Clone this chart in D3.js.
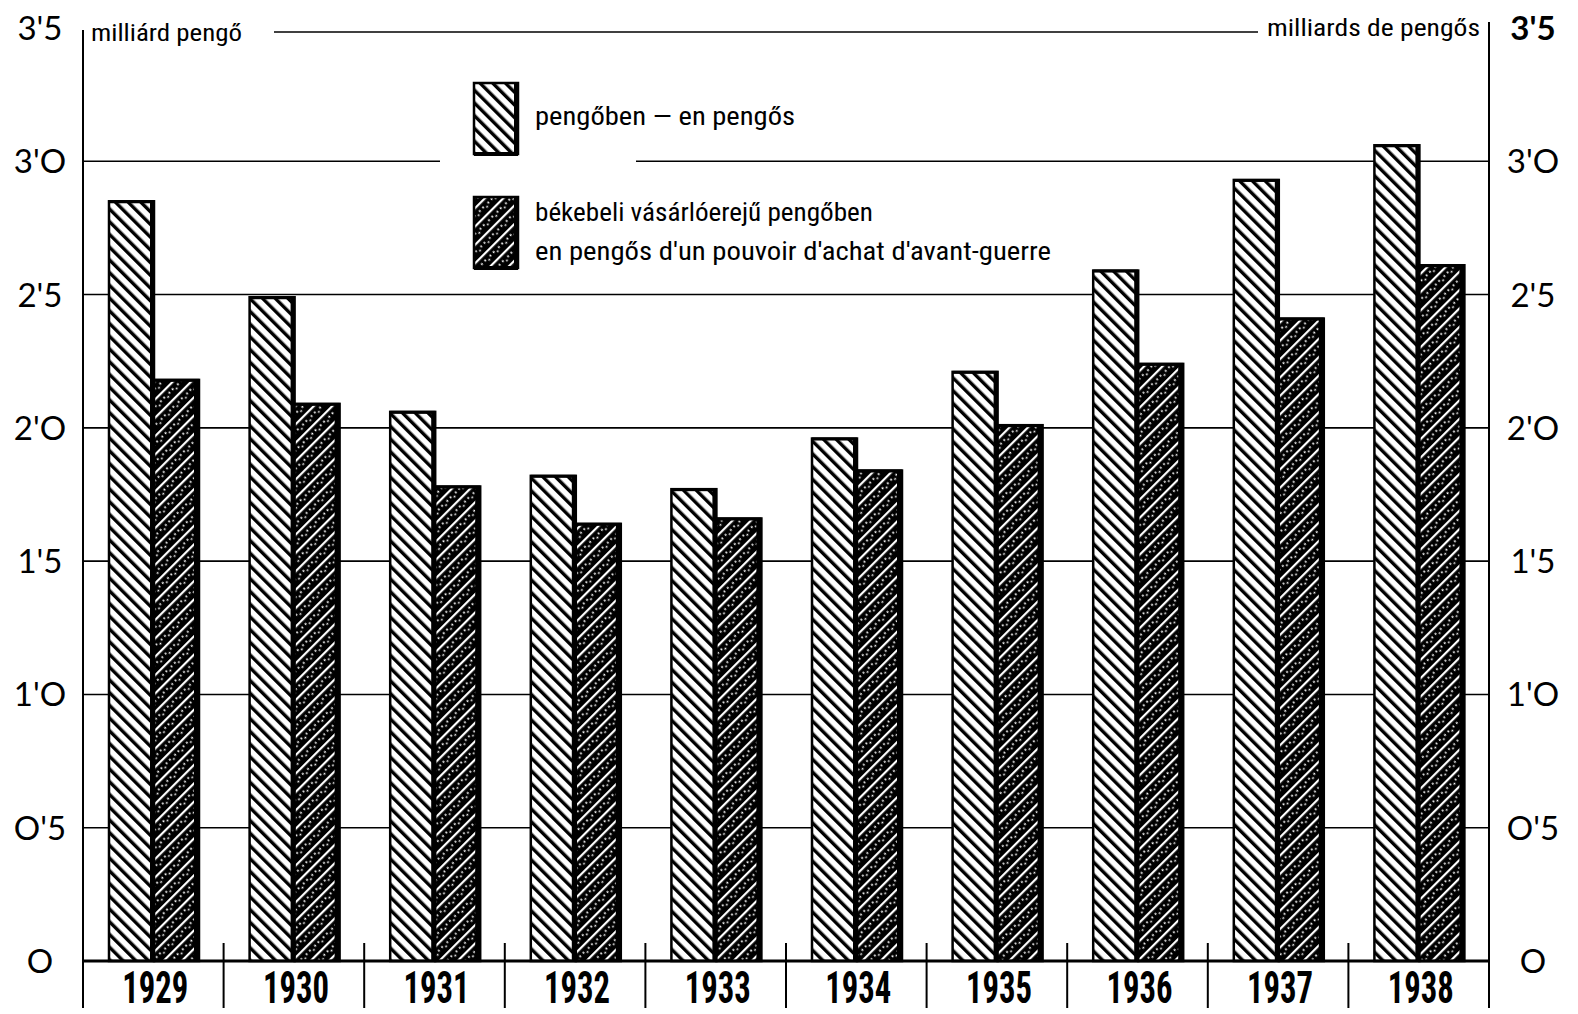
<!DOCTYPE html>
<html><head><meta charset="utf-8">
<script src="https://cdn.jsdelivr.net/npm/d3@7"></script>
<style>
body{margin:0;background:#fff;}
svg{display:block;}
.cond{font-family:"Liberation Sans Narrow","Roboto Condensed","DejaVu Sans Condensed",sans-serif;}
.num{font-family:Lato,"Noto Sans",sans-serif;}
</style></head><body>
<svg id="c" width="1578" height="1014"></svg>
<script>
const years = ["1929","1930","1931","1932","1933","1934","1935","1936","1937","1938"];
const nominal = [2.85,2.49,2.06,1.82,1.77,1.96,2.21,2.59,2.93,3.06];
const realPrewar = [2.18,2.09,1.78,1.64,1.66,1.84,2.01,2.24,2.41,2.61];
const seriesKeys = ["nominal","real"];
const tickValues = [0,0.5,1,1.5,2,2.5,3,3.5];
const tickLabels = ["O","O'5","1'O","1'5","2'O","2'5","3'O","3'5"];
const legendLabels = [["pengőben — en pengős"],["békebeli vásárlóerejű pengőben","en pengős d'un pouvoir d'achat d'avant-guerre"]];
const unitLeft = "milliárd pengő";
const unitRight = "milliards de pengős";

const svg = d3.select("#c");
const L = 83, R = 1489;
const y = d3.scaleLinear().domain([0,3.5]).range([961,28]);
const x0 = d3.scaleBand().domain(years).range([L,R]);
const x1 = d3.scaleBand().domain(seriesKeys).range([26,116]);

const defs = svg.append("defs");
// Pattern A: white with black "\" stripes
const pA = defs.append("pattern").attr("id","pA").attr("patternUnits","userSpaceOnUse")
  .attr("width",9).attr("height",9).attr("patternTransform","rotate(-45)");
pA.append("rect").attr("width",9).attr("height",9).attr("fill","#fff");
pA.append("rect").attr("x",0).attr("width",3.4).attr("height",9).attr("fill","#000");
// Pattern B: black with white "/" stripes and dotted white
const pB = defs.append("pattern").attr("id","pB").attr("patternUnits","userSpaceOnUse")
  .attr("width",13).attr("height",12).attr("patternTransform","rotate(45)");
pB.append("rect").attr("width",13).attr("height",12).attr("fill","#000");
pB.append("rect").attr("x",1).attr("width",2.2).attr("height",12).attr("fill","#fff");
pB.append("rect").attr("x",6.6).attr("y",1).attr("width",1.8).attr("height",1.8).attr("fill","#fff");
pB.append("rect").attr("x",8.8).attr("y",4.8).attr("width",1.6).attr("height",1.8).attr("fill","#fff");
pB.append("rect").attr("x",6.4).attr("y",8.2).attr("width",1.8).attr("height",1.8).attr("fill","#fff");

// gridlines
[0.5,1,1.5,2,2.5].forEach(v=>{
  svg.append("line").attr("x1",L).attr("x2",R).attr("y1",y(v)).attr("y2",y(v))
    .attr("stroke","#000").attr("stroke-width",1.6);
});
svg.append("line").attr("x1",L).attr("x2",440).attr("y1",y(3)).attr("y2",y(3)).attr("stroke","#000").attr("stroke-width",1.6);
svg.append("line").attr("x1",636).attr("x2",R).attr("y1",y(3)).attr("y2",y(3)).attr("stroke","#000").attr("stroke-width",1.6);
svg.append("line").attr("x1",274).attr("x2",1258).attr("y1",y(3.5)+4).attr("y2",y(3.5)+4).attr("stroke","#000").attr("stroke-width",1.6);

// bars
const data = years.map((yr,i)=>({year:yr, nominal:nominal[i], real:realPrewar[i]}));
const g = svg.append("g");
data.forEach(d=>{
  seriesKeys.forEach(k=>{
    const bx = x0(d.year)+x1(k), bw = x1.bandwidth(), top = y(d[k]), h = y(0)-y(d[k]);
    const edge = k==="nominal"?4:5;
    g.append("rect").attr("x",bx).attr("y",top).attr("width",bw).attr("height",h)
      .attr("fill",k==="nominal"?"url(#pA)":"url(#pB)").attr("stroke","#000").attr("stroke-width",2.5);
    g.append("rect").attr("x",bx+bw-edge).attr("y",top).attr("width",edge).attr("height",h).attr("fill","#000");
    g.append("rect").attr("x",bx).attr("y",top-1).attr("width",bw).attr("height",3).attr("fill","#000");
  });
});

// baseline & axes
svg.append("line").attr("x1",L).attr("x2",R).attr("y1",y(0)).attr("y2",y(0)).attr("stroke","#000").attr("stroke-width",3);
svg.append("line").attr("x1",L).attr("x2",L).attr("y1",y(3.5)+2).attr("y2",1008).attr("stroke","#000").attr("stroke-width",2);
svg.append("line").attr("x1",R).attr("x2",R).attr("y1",y(3.5)-6).attr("y2",1008).attr("stroke","#000").attr("stroke-width",2);
years.slice(1).forEach(yr=>{
  svg.append("line").attr("x1",x0(yr)).attr("x2",x0(yr)).attr("y1",y(0)-18).attr("y2",1008).attr("stroke","#000").attr("stroke-width",2);
});

// axis labels
tickValues.forEach((v,i)=>{
  svg.append("text").attr("class","num").attr("x",40).attr("y",y(v)+12).attr("text-anchor","middle")
    .attr("font-size",33).text(tickLabels[i]);
  svg.append("text").attr("class","num").attr("x",1533).attr("y",y(v)+12).attr("text-anchor","middle")
    .attr("font-size",33).attr("font-weight",v===3.5?700:400).text(tickLabels[i]);
});

// year labels
years.forEach(yr=>{
  svg.append("text").attr("class","cond").attr("x",x0(yr)+x0.bandwidth()/2+2).attr("y",1003)
    .attr("text-anchor","middle").attr("font-size",44).attr("font-weight",700)
    .attr("textLength",66).attr("lengthAdjust","spacingAndGlyphs").text(yr);
});

// unit labels
svg.append("text").attr("class","cond").attr("x",91).attr("y",41).attr("font-size",24)
  .attr("textLength",151).attr("lengthAdjust","spacingAndGlyphs").text(unitLeft);
svg.append("text").attr("class","cond").attr("x",1267).attr("y",36).attr("font-size",24)
  .attr("textLength",213).attr("lengthAdjust","spacingAndGlyphs").text(unitRight);

// legend
const lg = svg.append("g");
[["url(#pA)",83],["url(#pB)",197]].forEach(([f,ty])=>{
  lg.append("rect").attr("x",474).attr("y",ty).attr("width",44).attr("height",71).attr("fill",f).attr("stroke","#000").attr("stroke-width",2.5);
  lg.append("rect").attr("x",514).attr("y",ty).attr("width",4).attr("height",73).attr("fill","#000");
  lg.append("rect").attr("x",474).attr("y",ty+69).attr("width",44).attr("height",4).attr("fill","#000");
});
lg.append("text").attr("class","cond").attr("x",535).attr("y",125).attr("font-size",25)
  .attr("textLength",260).attr("lengthAdjust","spacingAndGlyphs").text(legendLabels[0][0]);
lg.append("text").attr("class","cond").attr("x",535).attr("y",221).attr("font-size",25)
  .attr("textLength",338).attr("lengthAdjust","spacingAndGlyphs").text(legendLabels[1][0]);
lg.append("text").attr("class","cond").attr("x",535).attr("y",260).attr("font-size",25)
  .attr("textLength",516).attr("lengthAdjust","spacingAndGlyphs").text(legendLabels[1][1]);
</script>
</body></html>
